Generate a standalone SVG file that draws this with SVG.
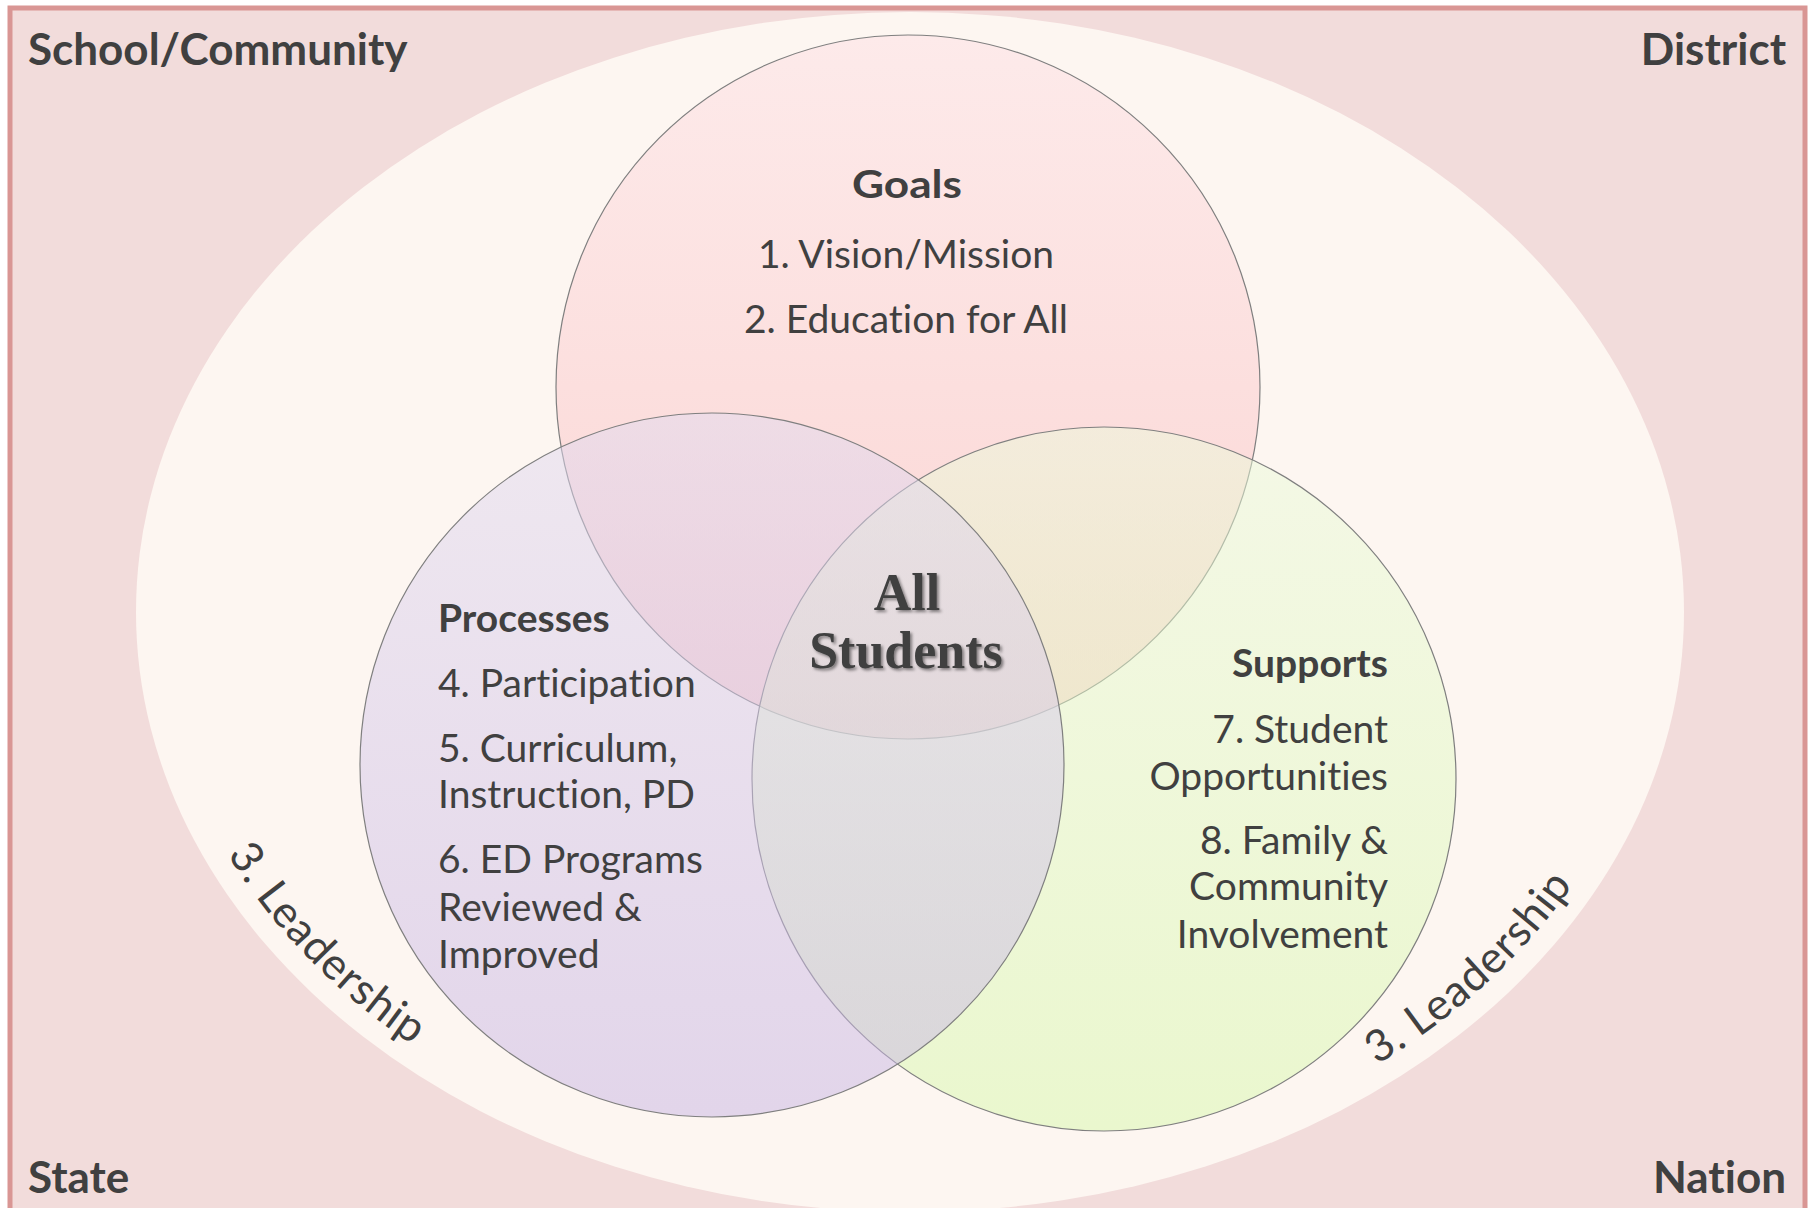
<svg xmlns="http://www.w3.org/2000/svg" width="1813" height="1208" viewBox="0 0 1813 1208">
<style>
.t{font-family:Lato,"Open Sans","Liberation Sans",sans-serif;fill:#404040;font-size:39px;font-variant-ligatures:none}
.b{font-weight:bold}
.h{font-family:Lato,"Open Sans","Liberation Sans",sans-serif;fill:#404040;font-weight:bold;font-size:44px;font-variant-ligatures:none}
.c{stroke:#7f7f7f;stroke-width:1.2}
.lead{font-size:44px;letter-spacing:1px}
.all{font-family:"Liberation Serif","DejaVu Serif",serif;font-weight:bold;fill:#404040;font-size:52px;text-anchor:middle}
</style>
<defs>
<linearGradient id="gG" x1="0" y1="0" x2="0" y2="1">
<stop offset="0" stop-color="#fdeaea"/><stop offset="1" stop-color="#fbd4d2"/>
</linearGradient>
<linearGradient id="gS" x1="0" y1="0" x2="0" y2="1">
<stop offset="0" stop-color="#ebfadb"/><stop offset="1" stop-color="#d7f8ab"/>
</linearGradient>
<linearGradient id="gP" x1="0" y1="0" x2="0" y2="1">
<stop offset="0" stop-color="#e1daef"/><stop offset="1" stop-color="#c7b4e3"/>
</linearGradient>
<filter id="sh" x="-20%" y="-20%" width="140%" height="140%">
<feDropShadow dx="2" dy="2" stdDeviation="1.8" flood-color="#000" flood-opacity="0.45"/>
</filter>
<path id="arcL" d="M 225 850 A 752 578 0 0 0 910 1190"/>
<path id="arcR" d="M 1377 1065 A 752 578 0 0 0 1662 612"/>
</defs>
<g id="background">
<rect x="10" y="8" width="1795" height="1215" fill="#f2dcdb" stroke="#d99694" stroke-width="5"/>
<ellipse cx="910" cy="612" rx="774" ry="600" fill="#fdf6f1"/>
</g>
<g id="corner-labels">
<text class="h" x="28" y="65">School/Community</text>
<text class="h" x="1786" y="65" text-anchor="end">District</text>
<text class="h" x="28" y="1193">State</text>
<text class="h" x="1786" y="1193" text-anchor="end">Nation</text>
</g>
<g id="leadership">
<text class="t lead"><textPath href="#arcL" startOffset="5">3. Leadership</textPath></text>
<text class="t lead"><textPath href="#arcR">3. Leadership</textPath></text>
</g>
<g id="goals">
<circle class="c" cx="908" cy="387" r="352" fill="url(#gG)"/>
</g>
<g id="supports">
<circle class="c" cx="1104" cy="779" r="352" fill="url(#gS)" fill-opacity="0.5"/>
</g>
<g id="processes">
<circle class="c" cx="712" cy="765" r="352" fill="url(#gP)" fill-opacity="0.5"/>
</g>
<g id="goals-text">
<text class="t b" x="907" y="198" font-size="47" text-anchor="middle" textLength="110" lengthAdjust="spacingAndGlyphs">Goals</text>
<text class="t" x="906" y="268" text-anchor="middle">1. Vision/Mission</text>
<text class="t" x="906" y="333" text-anchor="middle">2. Education for All</text>
</g>
<g id="processes-text">
<text class="t b" x="438" y="632">Processes</text>
<text class="t" x="438" y="697">4. Participation</text>
<text class="t" x="438" y="762">5. Curriculum,</text>
<text class="t" x="438" y="808">Instruction, PD</text>
<text class="t" x="438" y="873">6. ED Programs</text>
<text class="t" x="438" y="921">Reviewed &amp;</text>
<text class="t" x="438" y="968">Improved</text>
</g>
<g id="supports-text">
<text class="t b" x="1388" y="677" text-anchor="end">Supports</text>
<text class="t" x="1388" y="743" text-anchor="end">7. Student</text>
<text class="t" x="1388" y="790" text-anchor="end">Opportunities</text>
<text class="t" x="1388" y="854" text-anchor="end">8. Family &amp;</text>
<text class="t" x="1388" y="900" text-anchor="end">Community</text>
<text class="t" x="1388" y="948" text-anchor="end">Involvement</text>
</g>
<g id="all-students" filter="url(#sh)">
<text class="all" x="907" y="610">All</text>
<text class="all" x="906" y="668">Students</text>
</g>
</svg>
